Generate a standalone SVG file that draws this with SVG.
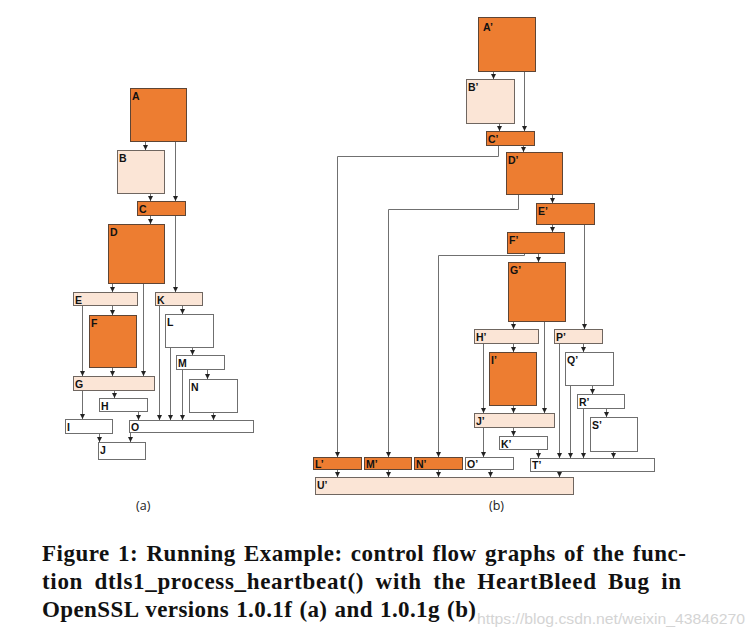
<svg xmlns="http://www.w3.org/2000/svg" width="756" height="639" viewBox="0 0 756 639">
<defs>
<marker id="ah" markerUnits="userSpaceOnUse" markerWidth="6" markerHeight="6" refX="5" refY="3" orient="auto">
<path d="M0,0.5 L5,3 L0,5.5 z" fill="#222"/>
</marker>
<style>
.or{fill:#ED7D31;stroke:#5e4535;stroke-width:1}
.pe{fill:#FBE5D6;stroke:#6f6660;stroke-width:1}
.wh{fill:#ffffff;stroke:#6f6f6f;stroke-width:1}
.lb{font-family:"Liberation Sans",Arial,sans-serif;font-weight:bold;font-size:10.5px;fill:#111}
.cn path{fill:none;stroke:#707070;stroke-width:1;marker-end:url(#ah)}
.cap{font-family:"Liberation Serif","Times New Roman",serif;font-weight:bold;font-size:23px;fill:#111}
.sub{font-family:"Open Sans","Liberation Sans",sans-serif;font-size:12.5px;fill:#222}
</style>
</defs>
<rect width="756" height="639" fill="#fff"/>

<g id="connectors-a" class="cn">
<path d="M145.5,141 V150"/>
<path d="M175.5,141 V201"/>
<path d="M150.5,193 V201"/>
<path d="M150.5,215 V224"/>
<path d="M175.5,215 V292"/>
<path d="M112.5,283 V292"/>
<path d="M143.5,283 V376"/>
<path d="M112.5,305 V315"/>
<path d="M82.5,305 V376"/>
<path d="M112.5,367 V376"/>
<path d="M182.5,305 V314"/>
<path d="M159.5,305 V420"/>
<path d="M170.5,347 V420"/>
<path d="M192.5,347 V355"/>
<path d="M182.5,369 V420"/>
<path d="M207.5,369 V379"/>
<path d="M213.5,412 V420"/>
<path d="M114.5,390 V398"/>
<path d="M82.5,390 V419"/>
<path d="M138.5,411 V420"/>
<path d="M99.5,433 V442"/>
<path d="M130.5,432 V442"/>
</g>

<g id="connectors-b" class="cn">
<path d="M493.5,71 V79"/>
<path d="M524.5,71 V131"/>
<path d="M499.5,123 V131"/>
<path d="M523.5,145 V152"/>
<path d="M498.5,145 V156.5 H337.5 V457"/>
<path d="M552.5,194 V203"/>
<path d="M518.5,194 V209.5 H388.5 V457"/>
<path d="M552.5,224 V232"/>
<path d="M584.5,224 V329"/>
<path d="M538.5,253 V262"/>
<path d="M524.5,253 V255.5 H438.5 V457"/>
<path d="M513.5,321 V329"/>
<path d="M544.5,321 V413"/>
<path d="M513.5,343 V352"/>
<path d="M483.5,343 V413"/>
<path d="M513.5,405 V413"/>
<path d="M583.5,343 V352"/>
<path d="M559.5,343 V458"/>
<path d="M592.5,385 V394"/>
<path d="M570.5,385 V458"/>
<path d="M606.5,408 V417"/>
<path d="M583.5,408 V458"/>
<path d="M613.5,451 V458"/>
<path d="M513.5,427 V436"/>
<path d="M483.5,427 V457"/>
<path d="M538.5,449 V458"/>
<path d="M490.5,469 V477"/>
<path d="M559.5,471 V477"/>
<path d="M337.5,469 V477"/>
<path d="M388.5,469 V477"/>
<path d="M438.5,469 V477"/>
</g>

<g id="A"><rect class="or" x="130.5" y="88.5" width="56" height="53"/><text class="lb" x="132" y="100">A</text></g>
<g id="B"><rect class="pe" x="117.5" y="150.5" width="47" height="43"/><text class="lb" x="119" y="162">B</text></g>
<g id="C"><rect class="or" x="137.5" y="201.5" width="48" height="14"/><text class="lb" x="139" y="212.5">C</text></g>
<g id="D"><rect class="or" x="108.5" y="224.5" width="56" height="59"/><text class="lb" x="110" y="236">D</text></g>
<g id="E"><rect class="pe" x="73.5" y="292.5" width="64" height="13"/><text class="lb" x="75" y="303.5">E</text></g>
<g id="K"><rect class="pe" x="155.5" y="292.5" width="47" height="13"/><text class="lb" x="157" y="303.5">K</text></g>
<g id="F"><rect class="or" x="89.5" y="315.5" width="47" height="52"/><text class="lb" x="91" y="327">F</text></g>
<g id="L"><rect class="wh" x="165.5" y="314.5" width="48" height="33"/><text class="lb" x="167" y="326">L</text></g>
<g id="M"><rect class="wh" x="176.5" y="355.5" width="48" height="14"/><text class="lb" x="178" y="366.5">M</text></g>
<g id="G"><rect class="pe" x="73.5" y="376.5" width="81" height="14"/><text class="lb" x="75" y="387.5">G</text></g>
<g id="N"><rect class="wh" x="189.5" y="379.5" width="48" height="33"/><text class="lb" x="191" y="391">N</text></g>
<g id="H"><rect class="wh" x="99.5" y="398.5" width="48" height="13"/><text class="lb" x="101" y="409.5">H</text></g>
<g id="I"><rect class="wh" x="65.5" y="419.5" width="47" height="14"/><text class="lb" x="67" y="430.5">I</text></g>
<g id="O"><rect class="wh" x="129.5" y="420.5" width="124" height="12"/><text class="lb" x="131" y="431">O</text></g>
<g id="J"><rect class="wh" x="98.5" y="442.5" width="47" height="17"/><text class="lb" x="100" y="454">J</text></g>

<g id="A2"><rect class="or" x="478.5" y="17.5" width="57" height="54"/><text class="lb" x="483" y="31">A’</text></g>
<g id="B2"><rect class="pe" x="466.5" y="79.5" width="48" height="44"/><text class="lb" x="468" y="91">B’</text></g>
<g id="C2"><rect class="or" x="486.5" y="131.5" width="48" height="14"/><text class="lb" x="488" y="142.5">C’</text></g>
<g id="D2"><rect class="or" x="506.5" y="152.5" width="56" height="42"/><text class="lb" x="508" y="164">D’</text></g>
<g id="E2"><rect class="or" x="536.5" y="203.5" width="58" height="21"/><text class="lb" x="538" y="215">E’</text></g>
<g id="F2"><rect class="or" x="507.5" y="232.5" width="57" height="21"/><text class="lb" x="509" y="244">F’</text></g>
<g id="G2"><rect class="or" x="508.5" y="262.5" width="57" height="59"/><text class="lb" x="510" y="274">G’</text></g>
<g id="H2"><rect class="pe" x="474.5" y="329.5" width="64" height="14"/><text class="lb" x="476" y="340.5">H’</text></g>
<g id="P2"><rect class="pe" x="554.5" y="329.5" width="48" height="14"/><text class="lb" x="556" y="340.5">P’</text></g>
<g id="I2"><rect class="or" x="489.5" y="352.5" width="47" height="53"/><text class="lb" x="491" y="364">I’</text></g>
<g id="Q2"><rect class="wh" x="565.5" y="352.5" width="48" height="33"/><text class="lb" x="567" y="364">Q’</text></g>
<g id="R2"><rect class="wh" x="577.5" y="394.5" width="47" height="14"/><text class="lb" x="579" y="405.5">R’</text></g>
<g id="J2"><rect class="pe" x="474.5" y="413.5" width="80" height="14"/><text class="lb" x="476" y="424.5">J’</text></g>
<g id="S2"><rect class="wh" x="590.5" y="417.5" width="47" height="34"/><text class="lb" x="592" y="429">S’</text></g>
<g id="K2"><rect class="wh" x="499.5" y="436.5" width="48" height="13"/><text class="lb" x="501" y="447.5">K’</text></g>
<g id="L2"><rect class="or" x="313.5" y="457.5" width="48" height="12"/><text class="lb" x="315" y="468">L’</text></g>
<g id="M2"><rect class="or" x="364.5" y="457.5" width="47" height="12"/><text class="lb" x="366" y="468">M’</text></g>
<g id="N2"><rect class="or" x="414.5" y="457.5" width="48" height="12"/><text class="lb" x="416" y="468">N’</text></g>
<g id="O2"><rect class="wh" x="465.5" y="457.5" width="48" height="12"/><text class="lb" x="467" y="468">O’</text></g>
<g id="T2"><rect class="wh" x="530.5" y="458.5" width="124" height="13"/><text class="lb" x="532" y="469">T’</text></g>
<g id="U2"><rect class="pe" x="315.5" y="477.5" width="258" height="17"/><text class="lb" x="317" y="489">U’</text></g>

<text class="sub" x="136" y="510">(a)</text>
<text class="sub" x="489" y="510">(b)</text>

<text class="cap" x="42" y="561" word-spacing="2" textLength="644" lengthAdjust="spacing">Figure 1: Running Example: control flow graphs of the func-</text>
<text class="cap" x="42" y="589" word-spacing="5" textLength="639" lengthAdjust="spacing">tion dtls1_process_heartbeat() with the HeartBleed Bug in</text>
<text class="cap" x="42" y="617" word-spacing="1" textLength="434" lengthAdjust="spacing">OpenSSL versions 1.0.1f (a) and 1.0.1g (b)</text>
<text x="477" y="624" font-family="Liberation Sans, Arial, sans-serif" font-size="15" fill="#d4d4d4" textLength="268" lengthAdjust="spacingAndGlyphs">https://blog.csdn.net/weixin_43846270</text>
</svg>
